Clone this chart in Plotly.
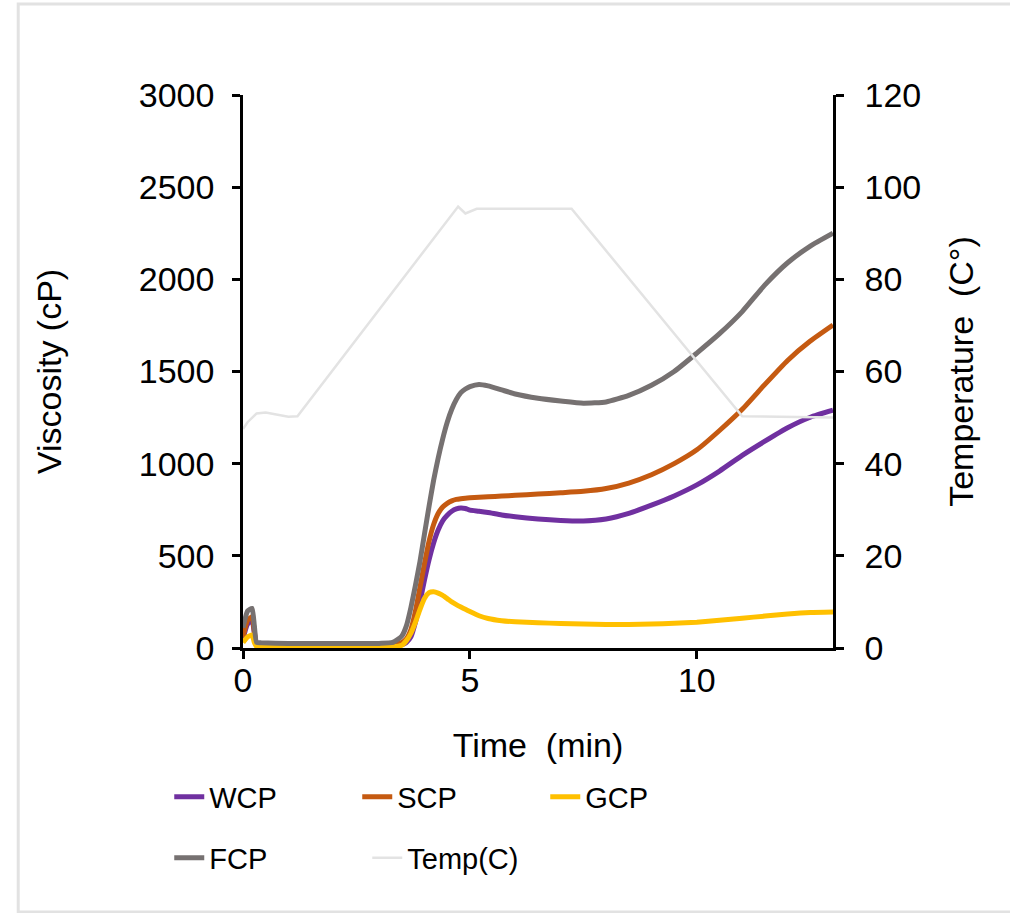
import plotly.graph_objects as go

# ---- data ----
time_min = [0, 0.1, 0.2, 0.25, 0.3, 0.4, 1, 2, 3, 3.3, 3.5, 3.6, 3.7, 3.8, 3.9, 4.0,
            4.1, 4.2, 4.3, 4.4, 4.5, 4.6, 4.7, 4.8, 4.9, 5.0, 5.2, 5.4, 5.7, 6.0,
            6.5, 7.0, 7.5, 8.0, 8.5, 9.0, 9.5, 10.0, 10.5, 11.0, 11.5, 12.0, 12.5, 13.0]

wcp = [50, 130, 150, 80, 15, 12, 10, 10, 10, 11, 18, 30, 60, 140, 250, 370,
       480, 570, 640, 690, 720, 742, 755, 760, 757, 748, 742, 735, 722, 712,
       700, 692, 689, 700, 730, 775, 825, 885, 960, 1045, 1122, 1195, 1252, 1290]

scp = [60, 150, 170, 90, 20, 18, 16, 15, 16, 18, 30, 50, 100, 200, 330, 460,
       580, 670, 730, 765, 785, 798, 806, 810, 813, 815, 818, 820, 824, 828,
       835, 842, 850, 865, 895, 940, 1000, 1075, 1180, 1295, 1430, 1560, 1665, 1752]

gcp = [30, 60, 70, 30, 8, 6, 5, 5, 5, 6, 15, 40, 80, 140, 210, 270,
       300, 305, 298, 285, 268, 250, 235, 222, 210, 198, 175, 160, 148, 142,
       137, 133, 130, 128, 128, 130, 134, 140, 150, 162, 173, 184, 192, 195]

fcp = [110, 200, 215, 120, 30, 28, 25, 24, 25, 30, 65, 120, 220, 340, 470, 620,
       770, 910, 1030, 1135, 1225, 1295, 1348, 1385, 1405, 1418, 1430, 1422, 1400, 1378,
       1355, 1340, 1328, 1335, 1370, 1425, 1500, 1600, 1705, 1825, 1970, 2090, 2180, 2250]

temp_time = [0, 0.1, 0.3, 0.5, 1.0, 1.2, 4.74, 4.9, 5.15, 7.24, 11.0, 13.0]
temp_c = [47.5, 49.0, 50.9, 51.1, 50.2, 50.3, 95.8, 94.3, 95.3, 95.3, 50.3, 50.0]

x_ticks = [0, 5, 10]
y_ticks = [0, 500, 1000, 1500, 2000, 2500, 3000]
y2_ticks = [0, 20, 40, 60, 80, 100, 120]

FONT = "Liberation Sans, Arial, sans-serif"
FS = 34

fig = go.Figure()
series = [("WCP", wcp, "#7030A0", "legend"), ("SCP", scp, "#C55A11", "legend"),
          ("GCP", gcp, "#FFC000", "legend"), ("FCP", fcp, "#767171", "legend2")]
for name, vals, col, lg in series:
    fig.add_trace(go.Scatter(x=time_min, y=vals, name=name, mode="lines", legend=lg,
                             line=dict(color=col, width=5, shape="spline", smoothing=0.5)))
fig.add_trace(go.Scatter(x=temp_time, y=temp_c, name="Temp(C)", mode="lines", yaxis="y2",
                         legend="legend2", line=dict(color="#E3E3E3", width=2.5)))

axis_common = dict(showline=True, linecolor="black", linewidth=2.5, ticks="outside",
                   ticklen=8, tickwidth=2.5, tickcolor="black", showgrid=False,
                   zeroline=False, tickfont=dict(family=FONT, size=FS, color="black"))

legend_common = dict(orientation="h", xanchor="left", yanchor="middle",
                     entrywidthmode="pixels", bgcolor="rgba(0,0,0,0)",
                     font=dict(family=FONT, size=29, color="black"))

fig.update_layout(
    width=1010, height=913, autosize=False,
    margin=dict(l=243, r=177, t=95, b=265),
    paper_bgcolor="white", plot_bgcolor="white",
    font=dict(family=FONT, size=FS, color="black"),
    xaxis=dict(range=[0, 13], tickvals=x_ticks, **axis_common, ticklabelstandoff=-8,
               title=dict(text="Time  (min)", font=dict(family=FONT, size=FS), standoff=36)),
    yaxis=dict(range=[0, 3000], tickvals=y_ticks, **axis_common, ticklabelstandoff=11,
               title=dict(text="Viscosity (cP)", font=dict(family=FONT, size=FS), standoff=67)),
    yaxis2=dict(range=[0, 120], tickvals=y2_ticks, overlaying="y", side="right",
                **axis_common, ticklabelstandoff=14,
                title=dict(text="Temperature  (C°)", font=dict(family=FONT, size=FS), standoff=29)),
    legend=dict(x=-0.125, y=-0.2694, entrywidth=143, **legend_common),
    legend2=dict(x=-0.125, y=-0.3797, entrywidth=153, **legend_common),
    showlegend=True,
    shapes=[dict(type="rect", xref="paper", yref="paper", x0=-0.381, x1=1.31,
                 y0=-0.4774, y1=1.1646, line=dict(color="#E2E2E2", width=3),
                 fillcolor="rgba(0,0,0,0)", layer="below")],
)

fig.write_html("out.html")
